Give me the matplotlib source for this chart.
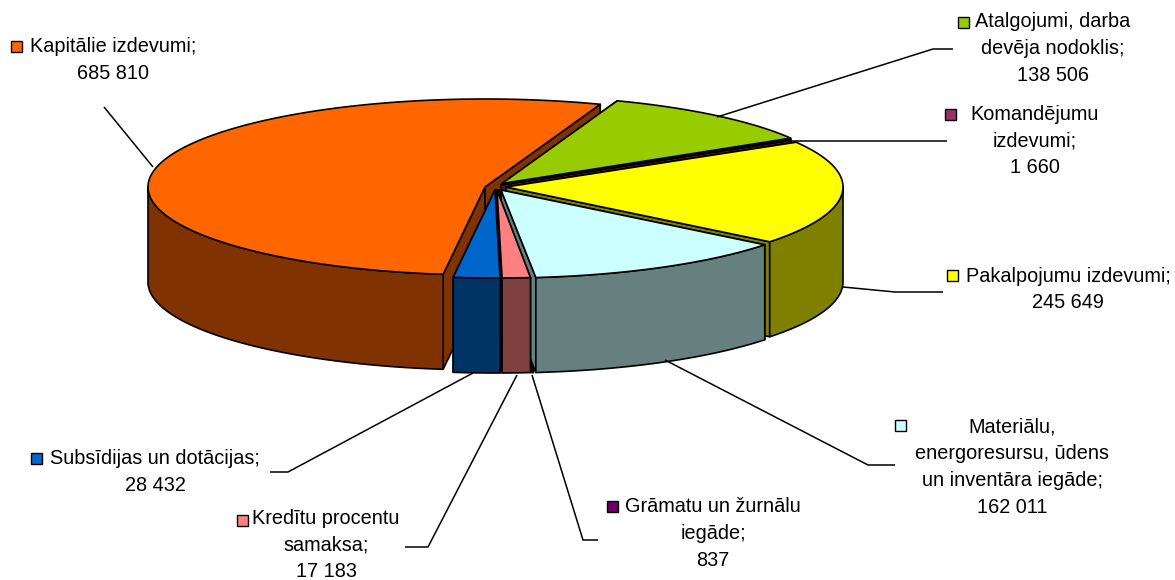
import numpy as np
import matplotlib
matplotlib.use('Agg')
import matplotlib.pyplot as plt
from matplotlib.patches import Polygon, Rectangle

plt.rcParams['font.family'] = ['Liberation Sans', 'DejaVu Sans']

labels = ['Atalgojumi, darba\ndevēja nodoklis;\n138 506',
          'Komandējumu\nizdevumi;\n1 660',
          'Pakalpojumu izdevumi;\n245 649',
          'Materiālu,\nenergoresursu, ūdens\nun inventāra iegāde;\n162 011',
          'Grāmatu un žurnālu\niegāde;\n837',
          'Kredītu procentu\nsamaksa;\n17 183',
          'Subsīdijas un dotācijas;\n28 432',
          'Kapitālie izdevumi;\n685 810']
values = [138506, 1660, 245649, 162011, 837, 17183, 28432, 685810]
colors = ['#99CC00', '#993366', '#FFFF00', '#CCFFFF', '#660066', '#FF8080', '#0066CC', '#FF6600']
walls = ['#4D6600', '#4D1A33', '#808000', '#668080', '#330033', '#804040', '#003366', '#803300']

# tip of each slice (pixels), the pie is exploded by hand
tips = [(502, 183.5), (501, 185), (506, 187), (501, 190), (498.5, 190), (497, 190), (495, 190), (485, 187)]
text_pos = [(1053, 48.5), (1035, 141), (1068, 289.5), (1012, 467), (713, 533.5), (326, 545), (155, 472), (113, 60)]
key_pos = [(963, 22), (950, 114), (952, 275), (900, 425), (612, 506), (242, 520), (36, 458), (16, 46)]
leaders = [[(953, 49), (933, 49), (717, 117)],
           [(947, 141), (790, 141)],
           [(943, 292), (895, 292), (843, 287)],
           [(895, 465), (868, 465), (665, 360)],
           [(598, 540), (583, 540), (532, 375)],
           [(405, 547), (428, 547), (517, 375)],
           [(270, 472), (288, 472), (473, 373)],
           [(104, 107), (153, 167)]]

start_angle = 20.0
rx, ry, depth = 337, 88, 95
edge = dict(edgecolor='black', linewidth=1.2, joinstyle='round')


def arc(tip, a0, a1):
    t = np.radians(np.linspace(a0, a1, max(int(abs(a1 - a0) * 2), 2)))
    return np.column_stack([tip[0] + rx * np.sin(t), tip[1] - ry * np.cos(t)])


def draw_slice(ax, tip, a0, a1, color, wall):
    tip = np.array(tip, float)
    down = np.array([0, depth])
    # radial walls
    for a in (a0, a1):
        p = arc(tip, a, a)[0]
        ax.add_patch(Polygon([tip, p, p + down, tip + down], facecolor=wall, **edge))
    # outer wall, only the front half can be seen
    lo, hi = max(a0, 90), min(a1, 270)
    if hi > lo:
        pts = arc(tip, lo, hi)
        ax.add_patch(Polygon(np.vstack([pts, pts[::-1] + down]), facecolor=wall, **edge))
    ax.add_patch(Polygon(np.vstack([tip, arc(tip, a0, a1)]), facecolor=color, **edge))


fig = plt.figure(figsize=(11.75, 5.8), dpi=100, facecolor='white')
ax = fig.add_axes([0, 0, 1, 1])
ax.set_xlim(0, 1175)
ax.set_ylim(580, 0)
ax.axis('off')

sweep = np.array(values) / sum(values) * 360
ends = start_angle + np.cumsum(sweep)
starts = ends - sweep

# orange goes first, everything else sits on top of its walls
# the grāmatu sliver goes under materiālu, only its edge shows
for i in [7, 0, 1, 2, 4, 3, 5, 6]:
    draw_slice(ax, tips[i], starts[i], ends[i], colors[i], walls[i])

for line in leaders:
    xs, ys = zip(*line)
    ax.plot(xs, ys, color='black', linewidth=1.1, solid_capstyle='butt')

for i, txt in enumerate(labels):
    ax.text(text_pos[i][0], text_pos[i][1], txt, ha='center', va='center', ma='center',
            fontsize=14.3, color='black', linespacing=1.53)
    kx, ky = key_pos[i]
    ax.add_patch(Rectangle((kx - 5.5, ky - 5.5), 11, 11, facecolor=colors[i],
                           edgecolor='black', linewidth=1.0))

fig.savefig('out.png', dpi=100)
